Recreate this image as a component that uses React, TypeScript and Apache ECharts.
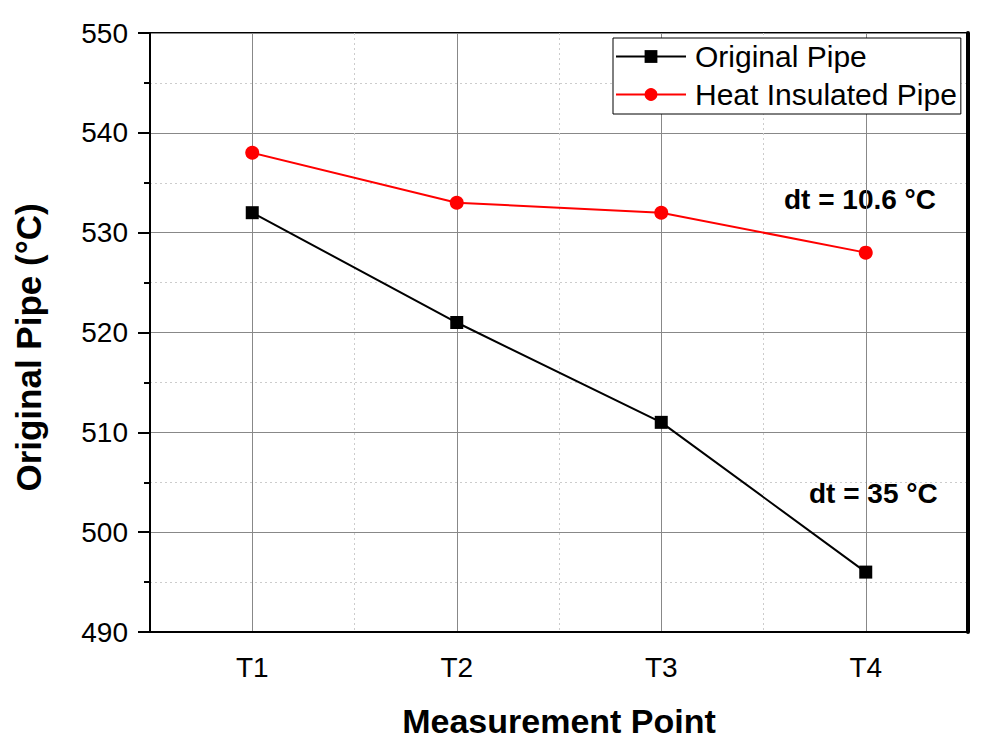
import React, { useEffect, useRef } from "react";
import * as echarts from "echarts";

const categories = ["T1", "T2", "T3", "T4"];
const originalPipe = [532, 521, 511, 496];
const insulatedPipe = [538, 533, 532, 528];
const seriesNames = ["Original Pipe", "Heat Insulated Pipe"];
const annotations = ["dt = 10.6 °C", "dt = 35 °C"];

const FONT = "'Liberation Sans', Arial, sans-serif";

export default function App() {
  const ref = useRef<HTMLDivElement>(null);
  useEffect(() => {
    if (!ref.current) return;
    const chart = echarts.init(ref.current, null, { renderer: "svg" });
    chart.setOption({
      animation: false,
      backgroundColor: "#fff",
      textStyle: { fontFamily: FONT },
      grid: {
        left: 150,
        right: 25,
        top: 33,
        bottom: 123,
        show: true,
        borderColor: "#000",
        borderWidth: 2,
        backgroundColor: "transparent",
      },
      legend: {
        orient: "vertical",
        left: 613,
        top: 38,
        itemWidth: 70,
        itemHeight: 16,
        itemGap: 7,
        padding: [3, 4, 4, 2],
        backgroundColor: "#fff",
        borderColor: "#000",
        borderWidth: 1,
        borderRadius: 0,
        textStyle: { fontFamily: FONT, fontSize: 30, color: "#000", lineHeight: 31, padding: [0, 0, 0, 4] },
        data: seriesNames,
      },
      xAxis: [
        {
          type: "category",
          data: categories,
          boundaryGap: true,
          position: "bottom",
          axisLine: { lineStyle: { color: "#000", width: 2 } },
          axisTick: { alignWithLabel: true, length: 12, lineStyle: { color: "#000", width: 2 } },
          axisLabel: { fontFamily: FONT, fontSize: 28, color: "#000", margin: 21 },
          splitLine: { show: true, alignWithLabel: true, lineStyle: { color: "#888", width: 1 } },
          name: "Measurement Point",
          nameLocation: "middle",
          nameGap: 72,
          nameTextStyle: { fontFamily: FONT, fontSize: 34, fontWeight: "bold", color: "#000" },
        },
        {
          type: "category",
          data: categories,
          boundaryGap: true,
          position: "bottom",
          axisLine: { show: false },
          axisTick: { length: 6, lineStyle: { color: "#000", width: 2 } },
          axisLabel: { show: false },
          splitLine: { show: true, lineStyle: { color: "#ccc", width: 1, type: [2, 3] } },
        },
      ],
      yAxis: [
        {
          type: "value",
          min: 490,
          max: 550,
          interval: 10,
          axisLine: { show: true, lineStyle: { color: "#000", width: 2 } },
          axisTick: { show: true, length: 12, lineStyle: { color: "#000", width: 2 } },
          minorTick: { show: true, splitNumber: 2, length: 6, lineStyle: { color: "#000", width: 2 } },
          axisLabel: { fontFamily: FONT, fontSize: 28, color: "#000", margin: 22 },
          splitLine: { show: true, lineStyle: { color: "#888", width: 1 } },
          minorSplitLine: { show: true, lineStyle: { color: "#ccc", width: 1, type: [2, 3] } },
          name: "Original Pipe (°C)",
          nameLocation: "middle",
          nameGap: 104,
          nameTextStyle: { fontFamily: FONT, fontSize: 35, fontWeight: "bold", color: "#000", padding: [0, 30, 0, 0] },
        },
        {
          type: "value",
          position: "right",
          min: 490,
          max: 550,
          interval: 10,
          axisLine: { show: true, lineStyle: { color: "#000", width: 4 } },
          axisTick: { show: false },
          axisLabel: { show: false },
          splitLine: { show: false },
        },
      ],
      series: [
        {
          name: seriesNames[0],
          type: "line",
          data: originalPipe,
          symbol: "rect",
          symbolSize: 13,
          lineStyle: { color: "#000", width: 2 },
          itemStyle: { color: "#000" },
          z: 3,
        },
        {
          name: seriesNames[1],
          type: "line",
          data: insulatedPipe,
          symbol: "circle",
          symbolSize: 14,
          lineStyle: { color: "#f00", width: 2 },
          itemStyle: { color: "#f00" },
          z: 3,
        },
      ],
      graphic: [
        {
          type: "text",
          left: 784,
          top: 185,
          style: { text: annotations[0], fontFamily: FONT, fontSize: 28, fontWeight: "bold", fill: "#000" },
        },
        {
          type: "text",
          left: 809,
          top: 479,
          style: { text: annotations[1], fontFamily: FONT, fontSize: 28, fontWeight: "bold", fill: "#000" },
        },
      ],
    });
    return () => chart.dispose();
  }, []);
  return <div ref={ref} style={{ width: 993, height: 755, position: "absolute", left: 0, top: 0 }} />;
}
